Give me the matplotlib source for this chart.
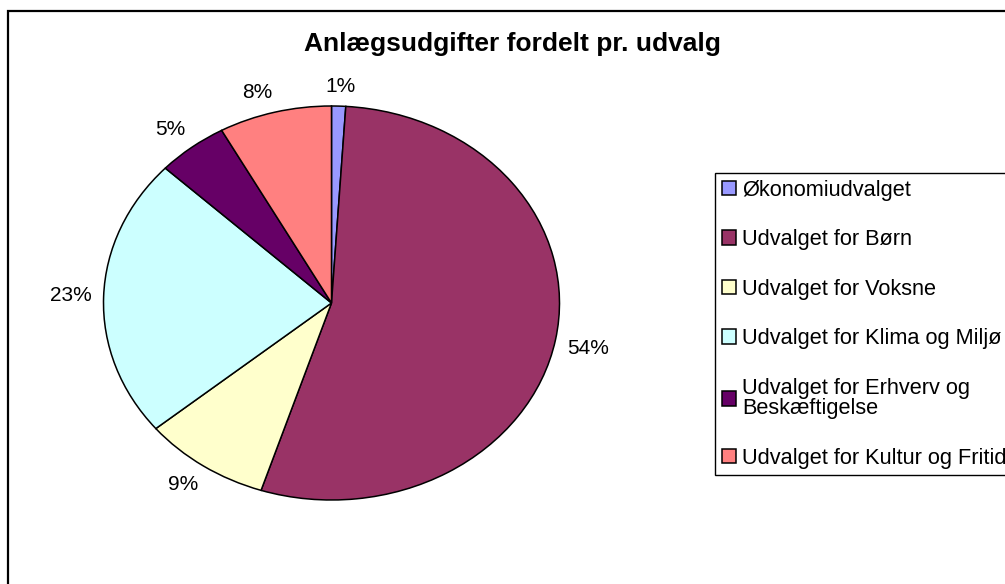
import matplotlib
matplotlib.use('Agg')
import numpy as np
import matplotlib.pyplot as plt
from matplotlib.patches import Rectangle

plt.rcParams['font.family'] = ['Liberation Sans', 'DejaVu Sans']

# Data (percent of total)
udvalg = ['Økonomiudvalget', 'Udvalget for Børn', 'Udvalget for Voksne',
          'Udvalget for Klima og Miljø', 'Udvalget for Erhverv og\nBeskæftigelse',
          'Udvalget for Kultur og Fritid']
andel = [1, 54, 9, 23, 5, 8]
farver = ['#9999FF', '#993366', '#FFFFCC', '#CCFFFF', '#660066', '#FF8080']
title = 'Anlægsudgifter fordelt pr. udvalg'

W, H = 1005, 584
fig = plt.figure(figsize=(W / 100, H / 100), dpi=100)

# chart area border (runs off right/bottom like the screenshot)
fig.add_artist(Rectangle((8 / W, -0.2), 1.5, 1.2 - 11 / H, transform=fig.transFigure,
                         fill=False, edgecolor='black', linewidth=1.6))

# pie axes - Excel stretched the pie into an ellipse
cx, cy, rx, ry = 331.5, 303, 228, 197
ax = fig.add_axes([(cx - 1.25 * rx) / W, (H - cy - 1.25 * ry) / H, 2.5 * rx / W, 2.5 * ry / H])
wedges, _ = ax.pie(andel, colors=farver, startangle=90, counterclock=False,
                   wedgeprops=dict(edgecolor='black', linewidth=1.1))
ax.set_aspect('auto')
ax.set_xlim(-1.25, 1.25)
ax.set_ylim(-1.25, 1.25)

# percentage labels just outside the rim, Excel style
gap, hh = 11, 9
for w, v in zip(wedges, andel):
    lab = f'{v}%'
    t = np.deg2rad((w.theta1 + w.theta2) / 2)
    c, s = np.cos(t), np.sin(t)
    hw = 7.2 * len(lab)
    dx = gap * c + hw * np.clip(4 * c, -1, 1)
    dy = gap * s + hh * np.clip(4 * s, -1, 1)
    ax.annotate(lab, (c, s), xytext=(dx * 0.72, dy * 0.72), textcoords='offset points',
                ha='center', va='center', fontsize=15)

fig.text(512 / W, 1 - 44 / H, title, ha='center', va='center', fontsize=19, fontweight='bold')

leg = fig.legend(wedges, udvalg, loc='upper left', bbox_to_anchor=(715 / W, 1 - 173 / H),
                 borderaxespad=0, fontsize=15.7, frameon=True, fancybox=False,
                 edgecolor='black', framealpha=1, labelspacing=1.31,
                 handlelength=0.65, handleheight=0.65, handletextpad=0.3, borderpad=0.3)
leg.get_frame().set_linewidth(1.0)
leg.get_texts()[4].set_linespacing(0.95)

fig.savefig('out.png', dpi=100)
